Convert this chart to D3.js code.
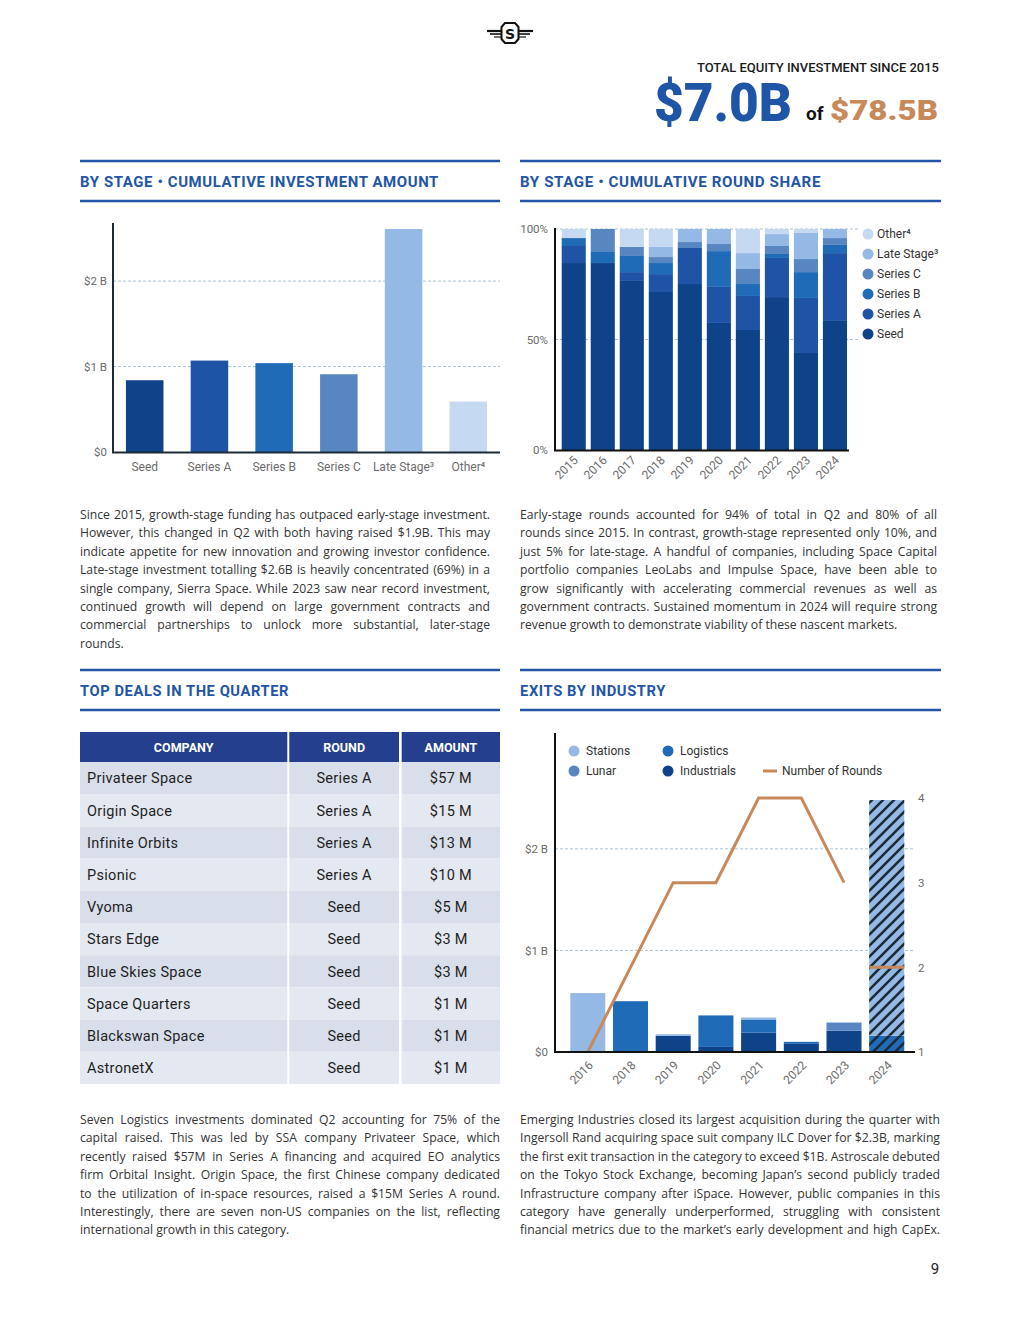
<!DOCTYPE html>
<html><head><meta charset="utf-8">
<script src="https://cdn.jsdelivr.net/npm/d3@7"></script>
<style>
body{margin:0;background:#fff;}
svg{display:block;}
.para{font-family:"Open Sans",sans-serif;font-size:12.2px;fill:#333;}
.lbl{font-family:Roboto,sans-serif;fill:#6b6b6b;}
</style></head>
<body>
<svg id="page" width="1020" height="1320"></svg>
<script>
// ---------- DATA ----------
const stageNames = ["Seed","Series A","Series B","Series C","Late Stage³","Other⁴"];
const stageAmountsB = [0.84, 1.07, 1.04, 0.91, 2.61, 0.59];
const amountTicks = [0, 1, 2];
const amountTickLabels = ["$0", "$1 B", "$2 B"];

const shareYears = ["2015","2016","2017","2018","2019","2020","2021","2022","2023","2024"];
const shareSeed    = [84.6, 84.6, 76.5, 71.5, 75.1, 57.5, 54.3, 69.2, 43.9, 58.4];
const shareSeriesA = [ 7.7,  0.0,  4.0,  8.1, 16.3, 16.3, 15.4, 17.7, 24.9, 30.7];
const shareSeriesB = [ 3.6,  5.0,  7.3,  5.0,  0.0, 16.2,  5.4,  1.8, 11.7,  3.7];
const shareSeriesC = [ 0.0, 10.4,  4.1,  2.7,  2.7,  3.2,  6.8,  3.6,  5.9,  3.1];
const shareLate    = [ 0.0,  0.0,  0.0,  4.6,  5.9,  6.8,  7.2,  5.4, 11.8,  4.1];
const shareOther   = [ 4.1,  0.0,  8.1,  8.1,  0.0,  0.0, 10.9,  2.3,  1.8,  0.0];
const shareTicks = [0, 50, 100];
const shareTickLabels = ["0%", "50%", "100%"];
const shareKeys = ["Seed","Series A","Series B","Series C","Late Stage³","Other⁴"];

const dealCompanies = ["Privateer Space","Origin Space","Infinite Orbits","Psionic","Vyoma","Stars Edge","Blue Skies Space","Space Quarters","Blackswan Space","AstronetX"];
const dealRounds = ["Series A","Series A","Series A","Series A","Seed","Seed","Seed","Seed","Seed","Seed"];
const dealAmounts = ["$57 M","$15 M","$13 M","$10 M","$5 M","$3 M","$3 M","$1 M","$1 M","$1 M"];
const dealHeaders = ["COMPANY","ROUND","AMOUNT"];

const exitYears = ["2016","2018","2019","2020","2021","2022","2023","2024"];
const exitIndustrials = [0.00, 0.00, 0.16, 0.05, 0.19, 0.08, 0.21, 0.00];
const exitLogistics   = [0.00, 0.50, 0.00, 0.31, 0.13, 0.02, 0.00, 0.16];
const exitLunar       = [0.00, 0.00, 0.00, 0.00, 0.00, 0.00, 0.08, 0.00];
const exitStations    = [0.58, 0.00, 0.015,0.00, 0.02, 0.00, 0.00, 2.32];
const exitRounds      = [1, 2, 3, 3, 4, 4, 3, 2];
const exitKeys = ["Industrials","Logistics","Lunar","Stations"];
const exitTicks = [0, 1, 2];
const exitTickLabels = ["$0", "$1 B", "$2 B"];
const roundTicks = [1, 2, 3, 4];
const pendingYear = "2024";

const para1 = [
"Since 2015, growth-stage funding has outpaced early-stage investment.",
"However, this changed in Q2 with both having raised $1.9B. This may",
"indicate appetite for new innovation and growing investor confidence.",
"Late-stage investment totalling $2.6B is heavily concentrated (69%) in a",
"single company, Sierra Space. While 2023 saw near record investment,",
"continued growth will depend on large government contracts and",
"commercial partnerships to unlock more substantial, later-stage",
"rounds."];
const para2 = [
"Early-stage rounds accounted for 94% of total in Q2 and 80% of all",
"rounds since 2015. In contrast, growth-stage represented only 10%, and",
"just 5% for late-stage. A handful of companies, including Space Capital",
"portfolio companies LeoLabs and Impulse Space, have been able to",
"grow significantly with accelerating commercial revenues as well as",
"government contracts. Sustained momentum in 2024 will require strong",
"revenue growth to demonstrate viability of these nascent markets."];
const para3 = [
"Seven Logistics investments dominated Q2 accounting for 75% of the",
"capital raised. This was led by SSA company Privateer Space, which",
"recently raised $57M in Series A financing and acquired EO analytics",
"firm Orbital Insight. Origin Space, the first Chinese company dedicated",
"to the utilization of in-space resources, raised a $15M Series A round.",
"Interestingly, there are seven non-US companies on the list, reflecting",
"international growth in this category."];
const para4 = [
"Emerging Industries closed its largest acquisition during the quarter with",
"Ingersoll Rand acquiring space suit company ILC Dover for $2.3B, marking",
"the first exit transaction in the category to exceed $1B. Astroscale debuted",
"on the Tokyo Stock Exchange, becoming Japan’s second publicly traded",
"Infrastructure company after iSpace. However, public companies in this",
"category have generally underperformed, struggling with consistent",
"financial metrics due to the market’s early development and high CapEx."];

// ---------- STYLE ----------
const stageColors = ["#0f4389","#1f53a5","#1f6bb8","#5786c1","#94b9e4","#c6d9f3"];
const exitColors = {Industrials:"#0f4389", Logistics:"#1f6bb8", Lunar:"#5786c1", Stations:"#94b9e4"};
const titleBlue = "#2355a5";
const gridColor = "#a9c4d4";
const axisColor = "#1b2a38";
const orange = "#c8895a";

const svg = d3.select("#page");
const defs = svg.append("defs");
const pat = defs.append("pattern").attr("id","hatch").attr("patternUnits","userSpaceOnUse")
  .attr("width",11).attr("height",11);
pat.append("path").attr("d","M-2,2 l4,-4 M0,11 l11,-11 M9,13 l4,-4")
  .attr("stroke","#1b2a38").attr("stroke-width",2.6);

// ---------- HEADER ----------
const logo = svg.append("g");
[[487,31,16,2.2],[490,34,13,1.6],[494,37,9,1.2]].forEach(([x,y,w,s])=>{
  logo.append("line").attr("x1",x).attr("x2",x+w).attr("y1",y).attr("y2",y).attr("stroke","#111").attr("stroke-width",s);
  logo.append("line").attr("x1",1020-x).attr("x2",1020-x-w).attr("y1",y).attr("y2",y).attr("stroke","#111").attr("stroke-width",s);
});
logo.append("polygon").attr("points","505,23 515,23 518.5,27 518.5,39 515,43 505,43 501.5,39 501.5,27")
  .attr("fill","#fff").attr("stroke","#111").attr("stroke-width",2);
logo.append("text").attr("x",510).attr("y",38.5).attr("text-anchor","middle")
  .attr("font-family","DejaVu Sans").attr("font-weight","bold").attr("font-size",14).attr("fill","#111").text("S");

svg.append("text").attr("x",939).attr("y",72).attr("text-anchor","end")
  .attr("font-family","Roboto").attr("font-weight",500).attr("font-size",13.5).attr("fill","#1a1a1a")
  .attr("textLength",242).attr("lengthAdjust","spacingAndGlyphs").text("TOTAL EQUITY INVESTMENT SINCE 2015");
svg.append("text").attr("x",654).attr("y",121).attr("font-family","Roboto").attr("font-weight",900)
  .attr("font-size",53).attr("fill","#1f55a6").attr("textLength",138).attr("lengthAdjust","spacingAndGlyphs").text("$7.0B");
svg.append("text").attr("x",806).attr("y",120).attr("font-family","Roboto").attr("font-weight",700)
  .attr("font-size",19).attr("fill","#111").text("of");
svg.append("text").attr("x",830).attr("y",120).attr("font-family","Roboto").attr("font-weight",900)
  .attr("font-size",27).attr("fill",orange).attr("textLength",108).attr("lengthAdjust","spacingAndGlyphs").text("$78.5B");

// ---------- SECTION HEADERS ----------
function section(x, w, yTop, title, tl){
  svg.append("line").attr("x1",x).attr("x2",x+w).attr("y1",yTop).attr("y2",yTop).attr("stroke","#2455a4").attr("stroke-width",2.5);
  svg.append("line").attr("x1",x).attr("x2",x+w).attr("y1",yTop+40).attr("y2",yTop+40).attr("stroke","#2455a4").attr("stroke-width",2.5);
  svg.append("text").attr("x",x).attr("y",yTop+26).attr("font-family","Roboto").attr("font-weight",700)
    .attr("font-size",15).attr("letter-spacing",0.6).attr("fill",titleBlue)
    .attr("textLength",tl).attr("lengthAdjust","spacingAndGlyphs").text(title);
}
section(80, 420, 161, "BY STAGE  •  CUMULATIVE INVESTMENT AMOUNT", 359);
section(520, 421, 161, "BY STAGE  •  CUMULATIVE ROUND SHARE", 301);
section(80, 420, 670, "TOP DEALS IN THE QUARTER", 209);
section(520, 421, 670, "EXITS BY INDUSTRY", 146);

// ---------- CHART 1: cumulative investment amount ----------
{
  const g = svg.append("g");
  const x = d3.scaleBand().domain(stageNames).range([113,500]).paddingInner(0.42).paddingOuter(0.2);
  const y = d3.scaleLinear().domain([0,2.68]).range([452,223]);
  g.selectAll("line.grid").data(amountTicks.slice(1)).join("line")
    .attr("x1",113).attr("x2",500).attr("y1",d=>y(d)).attr("y2",d=>y(d))
    .attr("stroke",gridColor).attr("stroke-dasharray","3,2").attr("stroke-width",1);
  g.selectAll("rect").data(stageAmountsB).join("rect")
    .attr("x",(d,i)=>x(stageNames[i])).attr("width",x.bandwidth())
    .attr("y",d=>y(d)).attr("height",d=>y(0)-y(d)).attr("fill",(d,i)=>stageColors[i]);
  const ya = g.append("g").attr("transform","translate(113,0)")
    .call(d3.axisLeft(y).tickValues(amountTicks).tickFormat((d,i)=>amountTickLabels[i]).tickSize(0).tickPadding(6));
  ya.select(".domain").remove();
  ya.selectAll("text").attr("class","lbl").attr("font-size",11.5);
  const xa = g.append("g").attr("transform","translate(0,452)")
    .call(d3.axisBottom(x).tickSize(0).tickPadding(10.5));
  xa.select(".domain").remove();
  xa.selectAll("text").attr("class","lbl").attr("font-size",12);
  g.append("line").attr("x1",113).attr("x2",113).attr("y1",223).attr("y2",453).attr("stroke",axisColor).attr("stroke-width",2);
  g.append("line").attr("x1",112).attr("x2",500).attr("y1",452.5).attr("y2",452.5).attr("stroke",axisColor).attr("stroke-width",2.2);
}

// ---------- CHART 2: cumulative round share ----------
{
  const g = svg.append("g");
  const rows = shareYears.map((yr,i)=>({year:yr,"Seed":shareSeed[i],"Series A":shareSeriesA[i],"Series B":shareSeriesB[i],
    "Series C":shareSeriesC[i],"Late Stage³":shareLate[i],"Other⁴":shareOther[i]}));
  const stack = d3.stack().keys(shareKeys)(rows);
  const x = d3.scaleBand().domain(shareYears).range([558.8,849.9]).paddingInner(0.17).paddingOuter(0.1);
  const y = d3.scaleLinear().domain([0,100]).range([450,229]);
  g.selectAll("line.grid").data(shareTicks.slice(1)).join("line")
    .attr("x1",555).attr("x2",858).attr("y1",d=>y(d)).attr("y2",d=>y(d))
    .attr("stroke",gridColor).attr("stroke-dasharray","3,2");
  g.selectAll("g.layer").data(stack).join("g").attr("fill",(d,i)=>stageColors[i])
    .selectAll("rect").data(d=>d).join("rect")
    .attr("x",d=>x(d.data.year)).attr("width",x.bandwidth())
    .attr("y",d=>y(d[1])).attr("height",d=>y(d[0])-y(d[1]));
  const ya = g.append("g").attr("transform","translate(555,0)")
    .call(d3.axisLeft(y).tickValues(shareTicks).tickFormat((d,i)=>shareTickLabels[i]).tickSize(0).tickPadding(7));
  ya.select(".domain").remove();
  ya.selectAll("text").attr("class","lbl").attr("font-size",11.5);
  const xa = g.append("g").attr("transform","translate(0,450)")
    .call(d3.axisBottom(x).tickSize(0));
  xa.select(".domain").remove();
  xa.selectAll("text").attr("class","lbl").attr("font-size",12)
    .attr("text-anchor","end").attr("y",0).attr("dy",0)
    .attr("transform","translate(5,11) rotate(-45)");
  g.append("line").attr("x1",555).attr("x2",555).attr("y1",228).attr("y2",451).attr("stroke","#111").attr("stroke-width",2);
  g.append("line").attr("x1",554).attr("x2",849).attr("y1",450.5).attr("y2",450.5).attr("stroke","#111").attr("stroke-width",2);
  // legend
  const lg = g.append("g");
  const legendKeys = shareKeys.slice().reverse();
  const ly = d3.scalePoint().domain(legendKeys).range([234,334]);
  lg.selectAll("circle").data(legendKeys).join("circle")
    .attr("cx",868).attr("cy",d=>ly(d)).attr("r",5.5)
    .attr("fill",d=>stageColors[shareKeys.indexOf(d)]);
  lg.selectAll("text").data(legendKeys).join("text")
    .attr("x",877).attr("y",d=>ly(d)+4.3).attr("font-family","Roboto").attr("font-size",12).attr("fill","#333").text(d=>d);
}

// ---------- TABLE ----------
{
  const g = svg.append("g");
  const cols = d3.scaleOrdinal().domain(dealHeaders).range([[80,207.3],[289.3,109.7],[401.7,98.3]]);
  const ry = d3.scaleBand().domain(d3.range(dealCompanies.length)).range([762,1084]);
  dealHeaders.forEach(h=>{
    const [cx,cw] = cols(h);
    g.append("rect").attr("x",cx).attr("y",732).attr("width",cw).attr("height",30).attr("fill","#243f8d");
    g.append("text").attr("x",cx+cw/2).attr("y",751.5).attr("text-anchor","middle").attr("font-family","Roboto")
      .attr("font-weight",700).attr("font-size",12.5).attr("fill","#fff").text(h);
  });
  dealCompanies.forEach((c,i)=>{
    const vals = [c, dealRounds[i], dealAmounts[i]];
    dealHeaders.forEach((h,j)=>{
      const [cx,cw] = cols(h);
      g.append("rect").attr("x",cx).attr("y",ry(i)).attr("width",cw).attr("height",ry.bandwidth())
        .attr("fill", i%2===0 ? "#d9dfea" : "#e4e8f0");
      g.append("text").attr("x", j===0 ? cx+7 : cx+cw/2).attr("y",ry(i)+ry.bandwidth()/2+5.3)
        .attr("text-anchor", j===0 ? "start" : "middle").attr("font-family","Roboto").attr("font-size",14.5)
        .attr("letter-spacing",0.3).attr("fill","#1e1e1e").text(vals[j]);
    });
  });
}

// ---------- CHART 3: exits by industry ----------
{
  const g = svg.append("g");
  const rows = exitYears.map((yr,i)=>({year:yr, Industrials:exitIndustrials[i], Logistics:exitLogistics[i], Lunar:exitLunar[i], Stations:exitStations[i]}));
  const stack = d3.stack().keys(exitKeys)(rows);
  const x = d3.scaleBand().domain(exitYears).range([566,908.5]).paddingInner(0.18).paddingOuter(0.1);
  const y = d3.scaleLinear().domain([0,3.14]).range([1052,733]);
  const yr = d3.scaleLinear().domain([1,4]).range([1052,798]);
  g.selectAll("line.grid").data(exitTicks.slice(1)).join("line")
    .attr("x1",555).attr("x2",913).attr("y1",d=>y(d)).attr("y2",d=>y(d))
    .attr("stroke",gridColor).attr("stroke-dasharray","3,2");
  const layers = g.selectAll("g.layer").data(stack).join("g").attr("fill",d=>exitColors[d.key]);
  layers.selectAll("rect").data(d=>d).join("rect")
    .attr("x",d=>x(d.data.year)).attr("width",x.bandwidth())
    .attr("y",d=>y(d[1])).attr("height",d=>y(d[0])-y(d[1]));
  layers.selectAll("rect.h").data(d=>d.filter(v=>v.data.year===pendingYear && v[1]>v[0])).join("rect")
    .attr("class","h").attr("fill","url(#hatch)")
    .attr("x",d=>x(d.data.year)).attr("width",x.bandwidth())
    .attr("y",d=>y(d[1])).attr("height",d=>y(d[0])-y(d[1]));
  const lineYears = exitYears.filter(yy=>yy!==pendingYear);
  const line = d3.line().x(d=>x(d)+x.bandwidth()/2).y(d=>yr(exitRounds[exitYears.indexOf(d)]));
  g.append("path").attr("d",line(lineYears)).attr("fill","none").attr("stroke",orange).attr("stroke-width",3);
  g.append("line").attr("x1",x(pendingYear)).attr("x2",x(pendingYear)+x.bandwidth())
    .attr("y1",yr(exitRounds[exitYears.indexOf(pendingYear)])).attr("y2",yr(exitRounds[exitYears.indexOf(pendingYear)]))
    .attr("stroke",orange).attr("stroke-width",3);
  const ya = g.append("g").attr("transform","translate(555,0)")
    .call(d3.axisLeft(y).tickValues(exitTicks).tickFormat((d,i)=>exitTickLabels[i]).tickSize(0).tickPadding(7));
  ya.select(".domain").remove();
  ya.selectAll("text").attr("class","lbl").attr("font-size",11.5);
  const yra = g.append("g").attr("transform","translate(913,0)")
    .call(d3.axisRight(yr).tickValues(roundTicks).tickFormat(d3.format("d")).tickSize(0).tickPadding(5));
  yra.select(".domain").remove();
  yra.selectAll("text").attr("class","lbl").attr("font-size",11.5);
  const xa = g.append("g").attr("transform","translate(0,1052)")
    .call(d3.axisBottom(x).tickSize(0));
  xa.select(".domain").remove();
  xa.selectAll("text").attr("class","lbl").attr("font-size",12)
    .attr("text-anchor","end").attr("y",0).attr("dy",0)
    .attr("transform","translate(6,14) rotate(-45)");
  g.append("line").attr("x1",555).attr("x2",555).attr("y1",733).attr("y2",1053).attr("stroke","#111").attr("stroke-width",2);
  g.append("line").attr("x1",554).attr("x2",915).attr("y1",1052).attr("y2",1052).attr("stroke","#111").attr("stroke-width",2);
  const leg = [["Stations",574,751],["Lunar",574,771],["Logistics",668,751],["Industrials",668,771]];
  leg.forEach(([k,cx,cy])=>{
    g.append("circle").attr("cx",cx).attr("cy",cy).attr("r",5.5).attr("fill",exitColors[k]);
    g.append("text").attr("x",cx+12).attr("y",cy+4.3).attr("font-family","Roboto").attr("font-size",12).attr("fill","#333").text(k);
  });
  g.append("line").attr("x1",763).attr("x2",777).attr("y1",771).attr("y2",771).attr("stroke",orange).attr("stroke-width",3);
  g.append("text").attr("x",782).attr("y",775.3).attr("font-family","Roboto").attr("font-size",12).attr("fill","#333").text("Number of Rounds");
}

// ---------- PARAGRAPHS ----------
function para(lines, x, y0, width, justifyLast){
  lines.forEach((ln,i)=>{
    const t = svg.append("text").attr("class","para").attr("x",x).attr("y",y0+i*18.4).text(ln);
    const last = i===lines.length-1;
    if(!last || justifyLast){
      const w = t.node().getComputedTextLength();
      const n = (ln.match(/ /g)||[]).length;
      if(n>0) t.style("word-spacing", ((width-w)/n)+"px");
    }
  });
}
para(para1, 80, 519, 410, false);
para(para2, 520, 519, 417, false);
para(para3, 80, 1124, 420, false);
para(para4, 520, 1124, 420, true);

svg.append("text").attr("x",935).attr("y",1274).attr("text-anchor","middle").attr("font-family","Roboto")
  .attr("font-size",15).attr("fill","#222").text("9");
</script>
</body></html>
